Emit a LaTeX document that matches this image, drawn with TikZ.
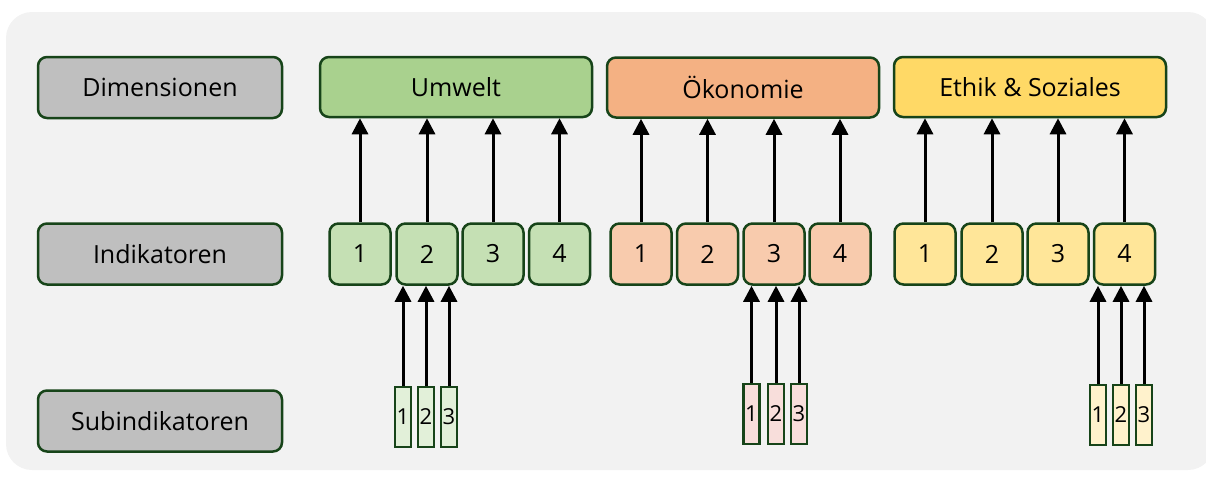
\documentclass[tikz,border=0pt]{standalone}
\usepackage{fontspec}
\setmainfont{Open Sans}
\usetikzlibrary{arrows.meta}
\definecolor{bordc}{HTML}{174419}
\definecolor{bgc}{HTML}{F2F2F2}
\definecolor{grayc}{HTML}{BFBFBF}
\definecolor{gdim}{HTML}{A9D18E}
\definecolor{gind}{HTML}{C5E0B4}
\definecolor{gsub}{HTML}{E2F0D9}
\definecolor{odim}{HTML}{F4B183}
\definecolor{oind}{HTML}{F8CBAD}
\definecolor{osub}{HTML}{F8DEDB}
\definecolor{ydim}{HTML}{FFD966}
\definecolor{yind}{HTML}{FFE699}
\definecolor{ysub}{HTML}{FFF2CC}
\tikzset{
  base/.style={draw=bordc, line width=2.5pt, inner sep=0pt, font=\fontsize{25}{29}\selectfont},
  label/.style={base, rounded corners=9pt, fill=grayc, minimum width=244pt, minimum height=61pt},
  dim/.style={base, rounded corners=9pt, minimum width=272pt, minimum height=60pt},
  ind/.style={base, rounded corners=9pt, minimum width=61pt, minimum height=61pt},
  sub/.style={draw=bordc, line width=2.5pt, inner sep=0pt, minimum width=16pt, minimum height=60pt, font=\fontsize{22}{24}\selectfont},
  arr/.style={line width=3pt, -{Triangle[width=16pt,length=16pt]}}
}
\begin{document}
\begin{tikzpicture}[x=1pt,y=-1pt]
\useasboundingbox (0,0) rectangle (1206,482);
\fill[bgc, rounded corners=26pt] (6,12) rectangle (1214,470);
% labels
\node[label] (ldim) at (160,87.5) {Dimensionen};
\node[label] (lind) at (160,254) {Indikatoren};
\node[label] (lsub) at (160,421) {Subindikatoren};
% dimensions
\node[dim, fill=gdim] (du) at (456,87) {Umwelt};
\node[dim, fill=odim] (do) at (743,87.5) {Ökonomie};
\node[dim, fill=ydim] (de) at (1030,87) {Ethik \& Soziales};
% indicators
\foreach \i/\x in {1/360,2/427,3/493,4/559.5}{
  \node[ind, fill=gind] (iu\i) at (\x,254) {\i};
  \draw[arr] (iu\i.north) -- (iu\i.north |- du.south);
}
\foreach \i/\x in {1/641,2/707.5,3/774,4/840}{
  \node[ind, fill=oind] (io\i) at (\x,254) {\i};
  \draw[arr] (io\i.north) -- (io\i.north |- do.south);
}
\foreach \i/\x in {1/925,2/992,3/1058,4/1124.5}{
  \node[ind, fill=yind] (ie\i) at (\x,254) {\i};
  \draw[arr] (ie\i.north) -- (ie\i.north |- de.south);
}
% subindicators
\foreach \i/\x in {1/403,2/426,3/449}{
  \node[sub, fill=gsub] (su\i) at (\x,417) {\i};
  \draw[arr] (su\i.north) -- (su\i.north |- iu2.south);
}
\foreach \i/\x in {1/751.5,2/776,3/799}{
  \node[sub, fill=osub] (so\i) at (\x,414) {\i};
  \draw[arr] (so\i.north) -- (so\i.north |- io3.south);
}
\foreach \i/\x in {1/1098,2/1121,3/1144}{
  \node[sub, fill=ysub] (se\i) at (\x,415) {\i};
  \draw[arr] (se\i.north) -- (se\i.north |- ie4.south);
}
\end{tikzpicture}
\end{document}
